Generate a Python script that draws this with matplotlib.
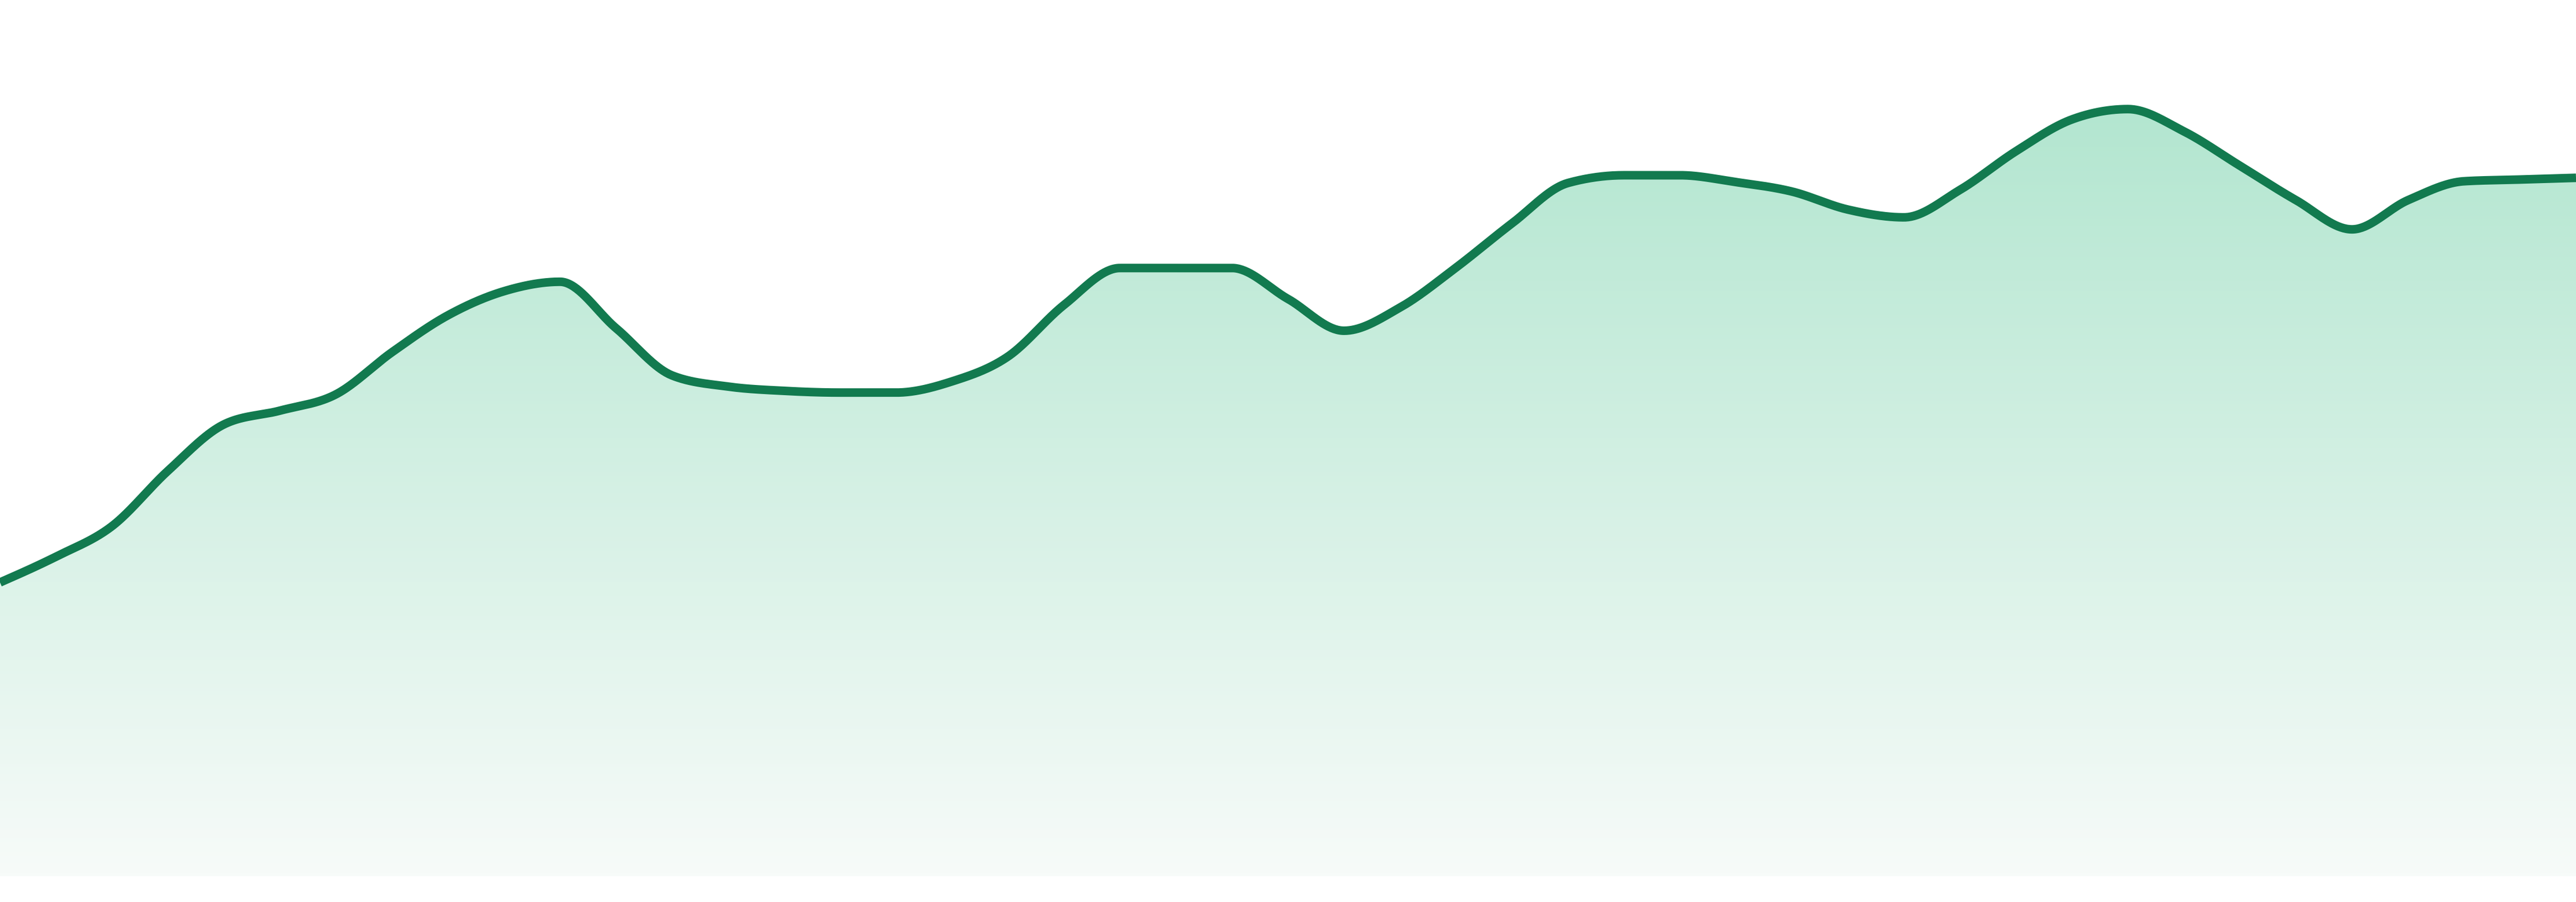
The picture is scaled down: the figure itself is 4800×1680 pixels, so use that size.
import matplotlib
matplotlib.use("Agg")
import matplotlib.pyplot as plt
from matplotlib.colors import LinearSegmentedColormap
import numpy as np

# one value per step, 47 steps across the full width
values = [34.2, 37.2, 40.75, 47.2, 52.6, 54.2, 56.1, 61.0, 65.3, 68.1,
          69.2, 63.8, 58.3, 57.0, 56.5, 56.3, 56.3, 57.6, 60.5, 66.5,
          70.8, 70.8, 70.8, 67.2, 63.5, 66.2, 70.85, 76.0, 80.7, 81.6,
          81.6, 80.8, 79.7, 77.6, 76.7, 79.9, 84.4, 88.1, 89.3, 86.7,
          82.7, 78.7, 75.3, 78.7, 80.9, 81.1, 81.3]

line_color = "#127a4f"
fill_top = "#a9e3ca"
fill_bottom = "#f7fbf9"


def monotone_x(x, y, n=40):
    # same smoothing as d3.curveMonotoneX
    x = np.asarray(x, float)
    y = np.asarray(y, float)
    h = np.diff(x)
    s = np.diff(y) / h
    t = np.zeros(len(x))
    for i in range(1, len(x) - 1):
        p = (s[i - 1] * h[i] + s[i] * h[i - 1]) / (h[i - 1] + h[i])
        t[i] = (np.sign(s[i - 1]) + np.sign(s[i])) * min(abs(s[i - 1]), abs(s[i]), 0.5 * abs(p))
    t[0] = (3 * s[0] - t[1]) / 2
    t[-1] = (3 * s[-1] - t[-2]) / 2
    xs, ys = [], []
    for i in range(len(x) - 1):
        u = np.linspace(0, 1, n, endpoint=False)
        h00 = 2 * u**3 - 3 * u**2 + 1
        h10 = u**3 - 2 * u**2 + u
        h01 = -2 * u**3 + 3 * u**2
        h11 = u**3 - u**2
        xs.append(x[i] + u * h[i])
        ys.append(h00 * y[i] + h10 * h[i] * t[i] + h01 * y[i + 1] + h11 * h[i] * t[i + 1])
    xs.append([x[-1]])
    ys.append([y[-1]])
    return np.concatenate(xs), np.concatenate(ys)


idx = np.arange(len(values))
sx, sy = monotone_x(idx, values)

fig = plt.figure(figsize=(48, 16.8), dpi=100)
ax = fig.add_axes([0, 0, 1, 1])
ax.set_xlim(0, len(values) - 1)
ax.set_ylim(-3, 102)
ax.axis("off")

poly = ax.fill_between(sx, sy, 0, color="none", lw=0)
cmap = LinearSegmentedColormap.from_list("g", [fill_bottom, fill_top])
grad = np.linspace(0, 1, 256).reshape(-1, 1)
im = ax.imshow(grad, cmap=cmap, origin="lower", aspect="auto",
               extent=[0, len(values) - 1, 0, 102], zorder=1)
path = poly.get_paths()[0]
im.set_clip_path(path, transform=ax.transData)

ax.plot(sx, sy, color=line_color, lw=11.5, solid_capstyle="butt", zorder=3)

fig.savefig("out.png", dpi=100)
